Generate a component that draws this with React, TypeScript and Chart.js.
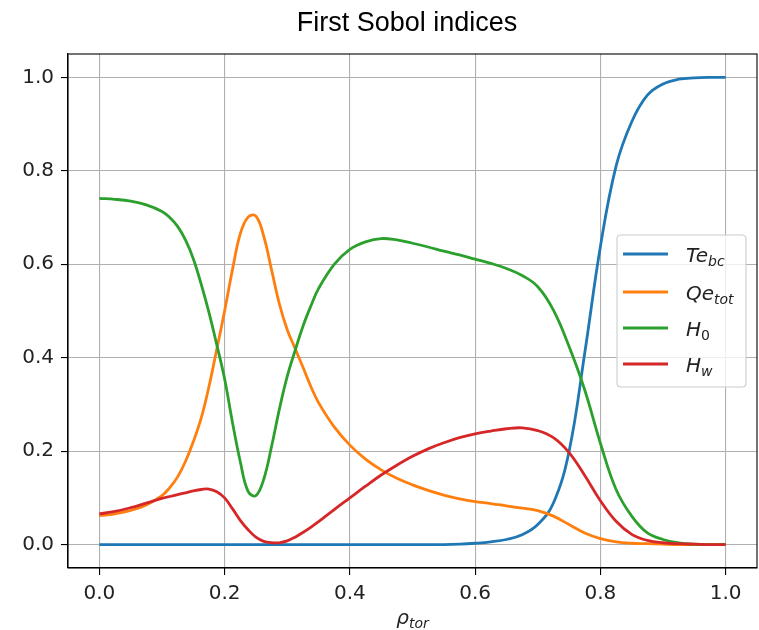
import React, { useEffect, useRef } from "react";
import { Chart, registerables } from "chart.js";

Chart.register(...registerables);

// Normalised toroidal radius
const rho = [
  0, 0.025, 0.05, 0.075, 0.1, 0.1125, 0.125, 0.1375, 0.15, 0.1625, 0.175, 0.1875,
  0.2, 0.2125, 0.225, 0.2375, 0.25, 0.2625, 0.275, 0.2875, 0.3, 0.3125, 0.325,
  0.3375, 0.35, 0.375, 0.4, 0.425, 0.45, 0.475, 0.5, 0.525, 0.55, 0.575, 0.6,
  0.625, 0.65, 0.675, 0.7, 0.725, 0.75, 0.775, 0.8, 0.825, 0.85, 0.875, 0.9,
  0.925, 0.95, 0.975, 1.0,
];

// First-order Sobol index of each uncertain input
const teBc = [
  0, 0, 0, 0, 0, 0, 0, 0, 0, 0, 0, 0,
  0, 0, 0, 0, 0, 0, 0, 0, 0, 0, 0,
  0, 0, 0, 0, 0, 0, 0, 0, 0, 0, 0.001, 0.003,
  0.006, 0.011, 0.021, 0.043, 0.089, 0.2, 0.41, 0.638, 0.81, 0.905, 0.962, 0.986,
  0.996, 0.999, 1.0, 1.0,
];
const qeTot = [
  0.062, 0.066, 0.073, 0.085, 0.105, 0.122, 0.145, 0.178, 0.22, 0.27, 0.338, 0.418,
  0.5, 0.588, 0.665, 0.701, 0.703, 0.66, 0.588, 0.515, 0.46, 0.42, 0.38,
  0.339, 0.304, 0.252, 0.213, 0.183, 0.16, 0.142, 0.128, 0.116, 0.106, 0.098, 0.092,
  0.088, 0.083, 0.078, 0.073, 0.061, 0.043, 0.025, 0.013, 0.006, 0.003, 0.002, 0.001,
  0, 0, 0, 0,
];
const h0 = [
  0.741, 0.739, 0.735, 0.727, 0.713, 0.7, 0.681, 0.652, 0.612, 0.558, 0.497, 0.428,
  0.355, 0.262, 0.178, 0.114, 0.105, 0.14, 0.21, 0.29, 0.36, 0.415, 0.467,
  0.51, 0.548, 0.6, 0.632, 0.648, 0.655, 0.652, 0.645, 0.637, 0.628, 0.62, 0.611,
  0.602, 0.591, 0.576, 0.552, 0.502, 0.424, 0.331, 0.217, 0.118, 0.061, 0.025, 0.011,
  0.004, 0.001, 0, 0,
];
const hw = [
  0.066, 0.071, 0.079, 0.089, 0.099, 0.103, 0.107, 0.111, 0.115, 0.118, 0.119, 0.113,
  0.1, 0.077, 0.052, 0.032, 0.016, 0.007, 0.004, 0.004, 0.008, 0.016, 0.026,
  0.037, 0.049, 0.075, 0.1, 0.125, 0.149, 0.17, 0.189, 0.205, 0.218, 0.229, 0.237,
  0.243, 0.248, 0.25, 0.244, 0.229, 0.197, 0.148, 0.094, 0.05, 0.022, 0.009, 0.004,
  0.002, 0.001, 0, 0,
];

const tickValues = [0, 0.2, 0.4, 0.6, 0.8, 1.0];

const seriesValues = [teBc, qeTot, h0, hw];
const seriesColors = ["#1f77b4", "#ff7f0e", "#2ca02c", "#d62728"];
const legendMain = ["Te", "Qe", "H", "H"];
const legendSub = ["bc", "tot", "0", "w"];
const legendRowY = [254, 292, 328, 364];

const TITLE = "First Sobol indices";
const MATH_FONT = '"DejaVu Sans"';
const TEXT_SIZE = 20;

type Part = { text: string; size: number; italic: boolean; dy: number };

function mathParts(main: string, sub: string, size: number): Part[] {
  const subItalic = !/^[0-9]+$/.test(sub);
  return [
    { text: main, size, italic: true, dy: 0 },
    { text: sub, size: size * 0.7, italic: subItalic, dy: size * 0.18 },
  ];
}

function drawParts(
  ctx: CanvasRenderingContext2D,
  parts: Part[],
  x: number,
  baseline: number,
  align: "left" | "center"
) {
  ctx.save();
  ctx.textAlign = "left";
  ctx.textBaseline = "alphabetic";
  const widths = parts.map((p) => {
    ctx.font = `${p.italic ? "italic " : ""}${p.size}px ${MATH_FONT}`;
    return ctx.measureText(p.text).width;
  });
  const total = widths.reduce((a, b) => a + b, 0);
  let cx = align === "center" ? x - total / 2 : x;
  parts.forEach((p, i) => {
    ctx.font = `${p.italic ? "italic " : ""}${p.size}px ${MATH_FONT}`;
    ctx.fillText(p.text, cx, baseline + p.dy);
    cx += widths[i];
  });
  ctx.restore();
}

const decorations = {
  id: "decorations",
  afterDraw(chart: Chart) {
    const { ctx, chartArea } = chart;
    const { left, right, top, bottom } = chartArea;

    // axes frame
    ctx.save();
    ctx.strokeStyle = "#000";
    ctx.lineWidth = 1.1;
    ctx.strokeRect(left, top, right - left, bottom - top);
    ctx.restore();

    // title
    ctx.save();
    ctx.fillStyle = "#000";
    ctx.font = '27px "Liberation Sans"';
    ctx.textAlign = "center";
    ctx.textBaseline = "alphabetic";
    ctx.fillText(TITLE, 407, 31);
    ctx.restore();

    // x-axis label
    ctx.save();
    ctx.fillStyle = "#222";
    drawParts(ctx, mathParts("\u03C1", "tor", TEXT_SIZE), (left + right) / 2, 624, "center");
    ctx.restore();

    // legend
    const bx = 617, by = 235, bw = 129, bh = 152, r = 4;
    ctx.save();
    ctx.beginPath();
    ctx.moveTo(bx + r, by);
    ctx.lineTo(bx + bw - r, by);
    ctx.quadraticCurveTo(bx + bw, by, bx + bw, by + r);
    ctx.lineTo(bx + bw, by + bh - r);
    ctx.quadraticCurveTo(bx + bw, by + bh, bx + bw - r, by + bh);
    ctx.lineTo(bx + r, by + bh);
    ctx.quadraticCurveTo(bx, by + bh, bx, by + bh - r);
    ctx.lineTo(bx, by + r);
    ctx.quadraticCurveTo(bx, by, bx + r, by);
    ctx.closePath();
    ctx.fillStyle = "rgba(255,255,255,0.8)";
    ctx.fill();
    ctx.strokeStyle = "#cccccc";
    ctx.lineWidth = 1.1;
    ctx.stroke();

    legendMain.forEach((main, i) => {
      const y = legendRowY[i];
      ctx.strokeStyle = seriesColors[i];
      ctx.lineWidth = 2.8;
      ctx.beginPath();
      ctx.moveTo(623, y);
      ctx.lineTo(668, y);
      ctx.stroke();
      ctx.fillStyle = "#222";
      drawParts(ctx, mathParts(main, legendSub[i], TEXT_SIZE), 686, y + 8, "left");
    });
    ctx.restore();
  },
};

export default function App() {
  const canvasRef = useRef<HTMLCanvasElement | null>(null);

  useEffect(() => {
    const canvas = canvasRef.current;
    if (!canvas) return;

    const tickFont = { family: MATH_FONT, size: TEXT_SIZE };
    const axisCommon = {
      type: "linear" as const,
      min: -0.05,
      max: 1.05,
      afterBuildTicks: (scale: any) => {
        scale.ticks = tickValues.map((v) => ({ value: v }));
      },
      grid: {
        color: "#b0b0b0",
        lineWidth: 1.1,
        tickLength: 7,
        tickColor: "#000",
        tickWidth: 1.1,
      },
      border: { display: true, color: "#000", width: 1.1 },
      ticks: {
        font: tickFont,
        color: "#222",
        padding: 7,
        maxRotation: 0,
        autoSkip: false,
        callback: (v: any) => Number(v).toFixed(1),
      },
    };

    const chart = new Chart(canvas, {
      type: "line",
      data: {
        datasets: seriesValues.map((vals, i) => ({
          label: legendMain[i] + legendSub[i],
          data: rho.map((x, j) => ({ x, y: vals[j] })),
          borderColor: seriesColors[i],
          backgroundColor: seriesColors[i],
          borderWidth: 2.8,
          pointRadius: 0,
          fill: false,
          tension: 0.4,
          borderJoinStyle: "round" as const,
          order: seriesValues.length - 1 - i,
        })),
      },
      options: {
        responsive: false,
        animation: false,
        devicePixelRatio: 1,
        layout: { padding: { top: 54, right: 2, left: 0, bottom: 0 } },
        plugins: {
          legend: { display: false },
          title: { display: false },
          tooltip: { enabled: false },
        },
        scales: {
          x: {
            ...axisCommon,
            afterFit: (scale: any) => {
              scale.height = 62;
            },
          },
          y: {
            ...axisCommon,
            afterFit: (scale: any) => {
              scale.width = 68;
            },
          },
        },
      },
      plugins: [decorations],
    });

    return () => chart.destroy();
  }, []);

  return (
    <div
      style={{
        position: "absolute",
        left: 0,
        top: 0,
        width: 759,
        height: 630,
        background: "#fff",
      }}
    >
      <canvas ref={canvasRef} width={759} height={630} style={{ display: "block" }} />
    </div>
  );
}
